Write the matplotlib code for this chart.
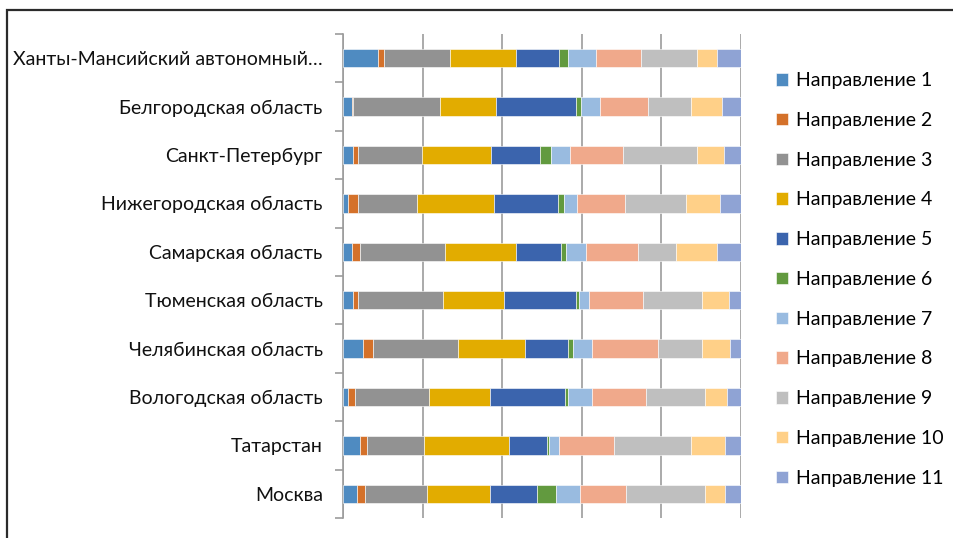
"""
Доли направлений по регионам: 100% горизонтальная гистограмма с накоплением.
"""

import matplotlib
matplotlib.use("Agg")
import matplotlib.pyplot as plt
from matplotlib.patches import Rectangle
import numpy as np

# ----- datos -----

REGIONS = [
    "Ханты-Мансийский автономный…",
    "Белгородская область",
    "Санкт-Петербург",
    "Нижегородская область",
    "Самарская область",
    "Тюменская область",
    "Челябинская область",
    "Вологодская область",
    "Татарстан",
    "Москва",
]

DIRECTIONS = [f"Направление {i}" for i in range(1, 12)]

# доли (%) каждого направления по регионам, сверху вниз
dir_1 = [8.9, 2.3, 2.6, 1.3, 2.3, 2.5, 5.1, 1.3, 4.4, 3.5]
dir_2 = [1.3, 0.2, 1.3, 2.5, 2.1, 1.3, 2.5, 1.8, 1.6, 2.1]
dir_3 = [16.8, 21.9, 15.9, 14.8, 21.3, 21.4, 21.4, 18.5, 14.4, 15.6]
dir_4 = [16.5, 14.0, 17.4, 19.4, 17.8, 15.3, 16.8, 15.3, 21.4, 15.7]
dir_5 = [10.7, 20.1, 12.3, 15.9, 11.5, 18.0, 10.7, 18.9, 9.5, 11.9]
dir_6 = [2.4, 1.3, 2.9, 1.7, 1.2, 0.8, 1.3, 0.8, 0.4, 4.8]
dir_7 = [7.0, 4.9, 4.6, 3.3, 5.0, 2.5, 4.9, 6.1, 2.5, 6.0]
dir_8 = [11.4, 12.1, 13.5, 11.9, 13.2, 13.6, 16.6, 13.6, 13.8, 11.5]
dir_9 = [14.0, 10.6, 18.5, 15.3, 9.5, 14.8, 11.0, 14.8, 19.4, 20.0]
dir_10 = [5.0, 7.9, 6.7, 8.7, 10.3, 6.7, 7.0, 5.4, 8.6, 5.0]
dir_11 = [6.0, 4.7, 4.3, 5.1, 6.0, 3.0, 2.7, 3.5, 3.9, 3.9]

SERIES = [dir_1, dir_2, dir_3, dir_4, dir_5, dir_6,
          dir_7, dir_8, dir_9, dir_10, dir_11]

COLORS = ["#4F8BC1", "#D4712A", "#929292", "#E2AC00", "#3B64AD", "#629A3F",
          "#99BBE0", "#F0A98B", "#BFBFBF", "#FFD088", "#8FA3D4"]

GRID_COLOR = "#9C9C9C"


# ----- grafico -----

def plot_shares():
    plt.rcParams["font.family"] = ["Lato", "DejaVu Sans"]

    fig = plt.figure(figsize=(9.54, 5.38), dpi=100)
    ax = fig.add_axes([0.3595, 0.0372, 0.4169, 0.8996])

    data = np.array(SERIES, dtype=float)
    data = data / data.sum(axis=0) * 100  # нормировка до 100%
    y = np.arange(len(REGIONS))
    left = np.zeros(len(REGIONS))

    handles = []
    for vals, color, name in zip(data, COLORS, DIRECTIONS):
        bars = ax.barh(y, vals, left=left, height=0.38, color=color,
                       edgecolor="white", linewidth=0.4, label=name, zorder=3)
        handles.append(bars)
        left += vals

    ax.set_xlim(0, 100)
    ax.set_ylim(len(REGIONS) - 0.5, -0.5)
    ax.set_xticks(np.arange(0, 101, 20))
    ax.xaxis.grid(True, color=GRID_COLOR, linewidth=1.2, zorder=0)
    ax.tick_params(axis="x", length=0, labelbottom=False)

    ax.set_yticks(y)
    ax.set_yticklabels(REGIONS, fontsize=14, color="#111111")
    ax.set_yticks(np.arange(-0.5, len(REGIONS)), minor=True)
    ax.tick_params(axis="y", which="major", length=0, pad=14.5)
    ax.tick_params(axis="y", which="minor", length=6, width=1.2, color=GRID_COLOR)

    for side in ["top", "right", "bottom"]:
        ax.spines[side].set_visible(False)
    ax.spines["left"].set_color(GRID_COLOR)
    ax.spines["left"].set_linewidth(1.2)

    fig.legend(handles=handles, loc="center left",
               bbox_to_anchor=(776 / 954, 0.4805), frameon=False,
               fontsize=14, handlelength=0.6, handleheight=0.6,
               handletextpad=0.45, labelspacing=1.17,
               borderpad=0, borderaxespad=0)

    # рамка области диаграммы
    fig.patches.append(Rectangle((7 / 954, -0.1), 1.2, 1.1 - 10 / 538,
                                 transform=fig.transFigure, fill=False,
                                 edgecolor="#2b2b2b", linewidth=1.6))

    fig.savefig("out.png", dpi=100)
    plt.close(fig)


if __name__ == "__main__":
    plot_shares()
